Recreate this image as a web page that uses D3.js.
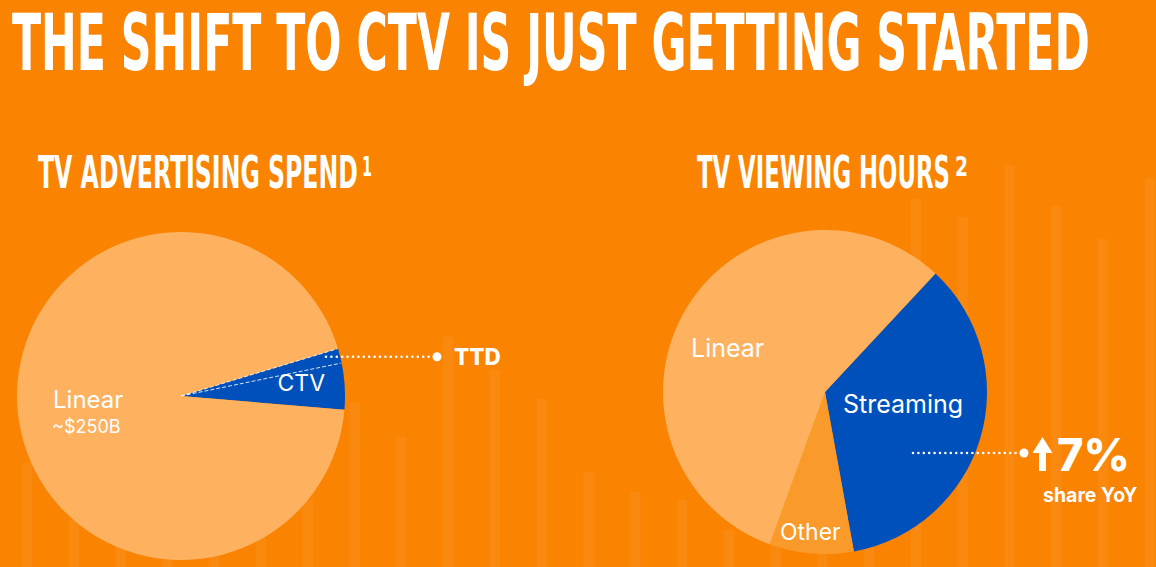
<!DOCTYPE html>
<html>
<head>
<meta charset="utf-8">
<script src="https://cdn.jsdelivr.net/npm/d3@7"></script>
<style>
  html, body { margin: 0; padding: 0; background: #fa8302; }
  svg { display: block; }
</style>
</head>
<body>
<div id="chart"></div>
<script>
//////////////////////////////  data  /////////////////////////////////
var spendLabels = ["CTV", "Linear"];
var spendValues = [6, 94];
var ttdShareOfCTV = 0.24;

var viewLabels = ["Streaming", "Other", "Linear"];
var viewValues = [35.2, 8.4, 56.4];

var yoyChange = "7%";

// faint bars behind everything (top of each bar, px)
var decoTops = [463, 520, 547, 500, 520, 500, 500, 403, 437, 337, 370, 399, 472,
                492, 500, 530, 520, 500, 300, 199, 217, 165, 206, 239, 178];

//////////////////////////////  setup  /////////////////////////////////
var width = 1156, height = 567;
var BG = "#fa8302", LIGHT = "#feb25f", BLUE = "#0050bc", MID = "#fa9a2b";
var sans = "Inter, 'Open Sans', sans-serif";
var cond = "'DejaVu Sans Condensed', 'DejaVu Sans', sans-serif";

var svg = d3.select("#chart").append("svg")
  .attr("width", width)
  .attr("height", height);

svg.append("rect").attr("width", width).attr("height", height).attr("fill", BG);

// deco bars
var xDeco = d3.scaleBand()
  .domain(d3.range(decoTops.length))
  .range([22, 1155])
  .paddingInner(0.78)
  .paddingOuter(0);

svg.append("g").selectAll("rect")
  .data(decoTops)
  .enter().append("rect")
  .attr("x", function(d, i){ return xDeco(i); })
  .attr("y", function(d){ return d; })
  .attr("width", xDeco.bandwidth())
  .attr("height", function(d){ return height - d; })
  .attr("fill", "#fff")
  .attr("opacity", 0.055);

////////////////////////////// titles /////////////////////////////////
// condensed headline look: squeeze a bold face horizontally to a given width
function squeezed(x, y, w, size, txt) {
  var g = svg.append("g");
  var t = g.append("text")
    .attr("x", 0).attr("y", 0)
    .style("font-family", cond).style("font-weight", "bold").style("font-size", size + "px")
    .attr("fill", "#fff")
    .text(txt);
  var k = w / t.node().getComputedTextLength();
  g.attr("transform", "translate(" + x + "," + y + ") scale(" + k + ",1)");
  return g;
}

squeezed(12, 70, 1078, 78, "THE SHIFT TO CTV IS JUST GETTING STARTED");

squeezed(38, 188, 320, 45, "TV ADVERTISING SPEND");
squeezed(362, 176, 10, 26, "1");
squeezed(697, 188, 253, 45, "TV VIEWING HOURS");
squeezed(955, 176, 13, 26, "2");

////////////////////////////// left pie /////////////////////////////////
var deg = Math.PI / 180;
var L = {cx: 181, cy: 396, r: 164};

var spendStart = 73.2 * deg;
var spendPie = d3.pie().sort(null)
  .startAngle(spendStart).endAngle(spendStart + 2 * Math.PI);
var spendArcs = spendPie(spendValues);

var arcL = d3.arc().innerRadius(0).outerRadius(L.r);

var gL = svg.append("g").attr("transform", "translate(" + L.cx + "," + L.cy + ")");
gL.selectAll("path")
  .data(spendArcs)
  .enter().append("path")
  .attr("d", arcL)
  .attr("fill", function(d, i){ return i === 0 ? BLUE : LIGHT; });

// TTD part of CTV, dashed edges
var ctv = spendArcs[0];
var ttdEnd = ctv.startAngle + (ctv.endAngle - ctv.startAngle) * ttdShareOfCTV;
[ctv.startAngle, ttdEnd].forEach(function(a){
  gL.append("line")
    .attr("x1", 0).attr("y1", 0)
    .attr("x2", Math.sin(a) * (L.r - 1)).attr("y2", -Math.cos(a) * (L.r - 1))
    .attr("stroke", "#fff").attr("stroke-width", 1)
    .attr("stroke-dasharray", "4 2").attr("opacity", 0.85);
});

// labels
var ctvMid = (ctv.startAngle + ctv.endAngle) / 2;
gL.append("text")
  .attr("x", Math.sin(ctvMid) * 121).attr("y", -Math.cos(ctvMid) * 121 + 8)
  .attr("text-anchor", "middle")
  .style("font-family", sans).style("font-size", "23px")
  .attr("fill", "#fff").text(spendLabels[0]);

gL.append("text")
  .attr("x", -128).attr("y", 12)
  .style("font-family", sans).style("font-size", "24px")
  .attr("fill", "#fff").text(spendLabels[1]);
gL.append("text")
  .attr("x", -129).attr("y", 37)
  .style("font-family", sans).style("font-size", "18px")
  .attr("fill", "#fff").text("~$250B");

// TTD callout
var ttdMid = (ctv.startAngle + ttdEnd) / 2;
var ttdY = L.cy - Math.cos(ttdMid) * 160;
svg.append("line")
  .attr("x1", 326).attr("y1", ttdY).attr("x2", 434).attr("y2", ttdY)
  .attr("stroke", "#fff").attr("stroke-width", 2.6)
  .attr("stroke-linecap", "round").attr("stroke-dasharray", "0 5.4");
svg.append("circle").attr("cx", 437).attr("cy", ttdY).attr("r", 4.5).attr("fill", "#fff");
svg.append("text")
  .attr("x", 454).attr("y", ttdY + 8)
  .style("font-family", sans).style("font-size", "22.5px").style("font-weight", 800)
  .attr("fill", "#fff").text("TTD");

////////////////////////////// right pie /////////////////////////////////
var R = {cx: 825, cy: 392, r: 162};
var viewStart = 43 * deg;
var viewPie = d3.pie().sort(null)
  .startAngle(viewStart).endAngle(viewStart + 2 * Math.PI);
var viewArcs = viewPie(viewValues);
var viewColor = d3.scaleOrdinal().domain(viewLabels).range([BLUE, MID, LIGHT]);

var arcR = d3.arc().innerRadius(0).outerRadius(R.r);
var gR = svg.append("g").attr("transform", "translate(" + R.cx + "," + R.cy + ")");
gR.selectAll("path")
  .data(viewArcs)
  .enter().append("path")
  .attr("d", arcR)
  .attr("fill", function(d, i){ return viewColor(viewLabels[i]); });

var viewLabelPos = [[18, 21], [-45, 148], [-134, -35]];
gR.selectAll("text.lbl")
  .data(viewLabels)
  .enter().append("text")
  .attr("class", "lbl")
  .attr("x", function(d, i){ return viewLabelPos[i][0]; })
  .attr("y", function(d, i){ return viewLabelPos[i][1]; })
  .style("font-family", sans).style("font-size", function(d, i){ return i === 1 ? "23px" : "25px"; })
  .attr("fill", "#fff")
  .text(function(d){ return d; });

// streaming callout
var cy7 = 453;
svg.append("line")
  .attr("x1", 913).attr("y1", cy7).attr("x2", 1021).attr("y2", cy7)
  .attr("stroke", "#fff").attr("stroke-width", 2.6)
  .attr("stroke-linecap", "round").attr("stroke-dasharray", "0 5.4");
svg.append("circle").attr("cx", 1024).attr("cy", cy7).attr("r", 4.5).attr("fill", "#fff");

svg.append("path")
  .attr("d", "M1042.5,437 L1052.5,453 L1046,453 L1046,471 L1039,471 L1039,453 L1032.5,453 Z")
  .attr("fill", "#fff");
svg.append("text")
  .attr("x", 1057).attr("y", 471)
  .style("font-family", sans).style("font-size", "45px").style("font-weight", 800)
  .attr("fill", "#fff").text(yoyChange);
svg.append("text")
  .attr("x", 1043).attr("y", 502)
  .style("font-family", sans).style("font-size", "19.5px").style("font-weight", 700)
  .attr("fill", "#fff").text("share YoY");
</script>
</body>
</html>
